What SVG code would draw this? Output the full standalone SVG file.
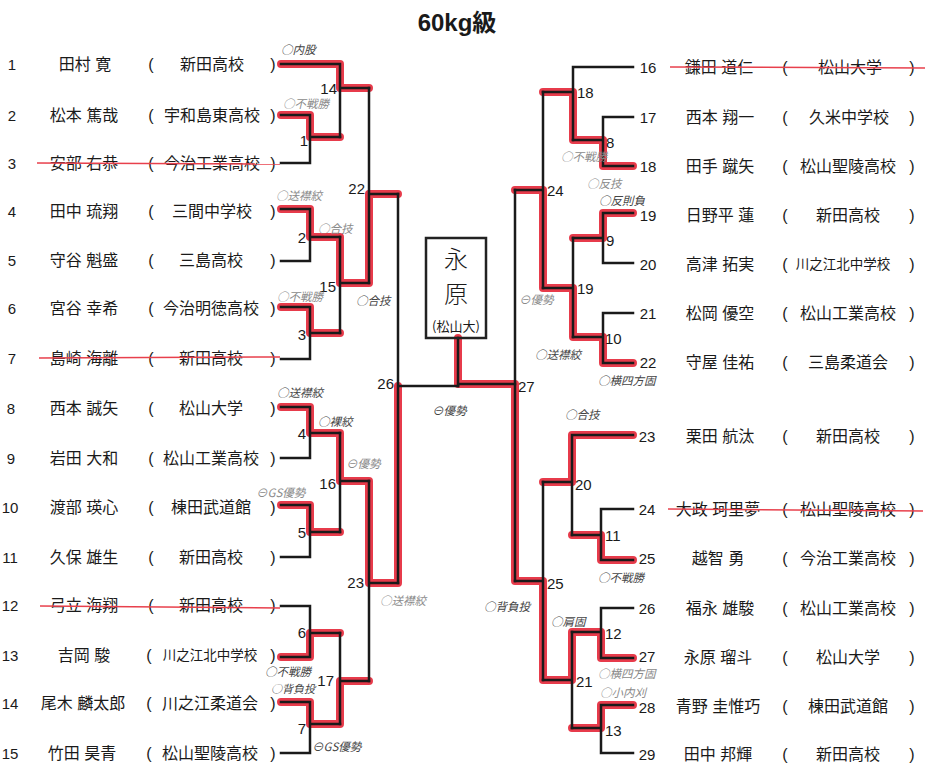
<svg xmlns="http://www.w3.org/2000/svg" width="932" height="782" viewBox="0 0 932 782">
<style>
text{font-family:"Liberation Sans","Noto Sans CJK JP",sans-serif;fill:#1a1a1a;dominant-baseline:central}
.num{font-size:15px;text-anchor:middle}
.nm{font-size:16px;text-anchor:middle}
.sc{font-size:16px;text-anchor:middle}
.scs{font-size:13.5px;text-anchor:middle}
.par{font-size:16px;text-anchor:middle}
.ml{font-size:15px}
.mlr{font-size:15px;text-anchor:end}
.ln{fill:none;stroke:#1a1a1a;stroke-width:2.5;stroke-linecap:square}
.win{fill:none;stroke:#e52a3c;stroke-width:8;stroke-linejoin:round;stroke-linecap:round;opacity:.92}
.strike{stroke:#e8404c;stroke-width:1.5}
.an{font-family:"Noto Sans CJK JP",sans-serif;font-size:11.5px;fill:#444;font-style:italic}
.ang{font-family:"Noto Sans CJK JP",sans-serif;font-size:11.5px;fill:#8a8a8a;font-style:italic}
.ch{font-family:"Noto Sans CJK JP",sans-serif;text-anchor:middle;font-weight:300}
</style>
<rect width="932" height="782" fill="#ffffff"/>
<text x="457" y="22" style="font-size:24px;font-weight:bold;text-anchor:middle">60kg級</text>

<g id="highlights">
<path class="win" d="M281,64 H340 V88 H369"/>
<path class="win" d="M281,115 H310 V137 H340"/>
<path class="win" d="M281,209 H310 V237 H340 V283 H369 V194 H398"/>
<path class="win" d="M281,307 H310 V333 H340"/>
<path class="win" d="M281,407 H310 V433 H340 V481 H369 V583 H398 V386"/>
<path class="win" d="M281,505 H310 V532 H340"/>
<path class="win" d="M281,657 H310 V633 H340"/>
<path class="win" d="M281,702 H310 V724 H340 V681 H369"/>
<path class="win" d="M633,166 H603 V140 H573 V92 H543"/>
<path class="win" d="M633,213 H603 V238 H573"/>
<path class="win" d="M633,363 H603 V337 H573 V288 H543 V190 H515"/>
<path class="win" d="M633,435 H572 V482 H543"/>
<path class="win" d="M633,560 H601 V535 H572"/>
<path class="win" d="M633,658 H601 V632 H572 V680 H543 V581 H515 V384 H458 V338"/>
<path class="win" d="M633,705 H601 V728 H572"/>
</g>

<g id="connectors">
<path class="ln" d="M281,115 H310 V163 H281 M310,137 H340"/>
<path class="ln" d="M281,64 H340 V137 M340,88 H369"/>
<path class="ln" d="M281,209 H310 V261 H281 M310,237 H340"/>
<path class="ln" d="M281,307 H310 V359 H281 M310,333 H340"/>
<path class="ln" d="M340,237 V333 M340,283 H369"/>
<path class="ln" d="M369,88 V283 M369,194 H398"/>
<path class="ln" d="M281,407 H310 V458 H281 M310,433 H340"/>
<path class="ln" d="M281,505 H310 V557 H281 M310,532 H340"/>
<path class="ln" d="M340,433 V532 M340,481 H369"/>
<path class="ln" d="M281,606 H310 V657 H281 M310,633 H340"/>
<path class="ln" d="M281,702 H310 V753 H281 M310,724 H340"/>
<path class="ln" d="M340,633 V724 M340,681 H369"/>
<path class="ln" d="M369,481 V681 M369,583 H398"/>
<path class="ln" d="M398,194 V583 M398,386 H458"/>
<path class="ln" d="M458,338 V386 M458,384 H515"/>
<path class="ln" d="M633,67 H573 V140 M573,92 H543"/>
<path class="ln" d="M633,117 H603 V166 H633 M603,140 H573"/>
<path class="ln" d="M633,213 H603 V263 H633 M603,238 H573"/>
<path class="ln" d="M633,313 H603 V363 H633 M603,337 H573"/>
<path class="ln" d="M573,238 V337 M573,288 H543"/>
<path class="ln" d="M543,92 V288 M543,190 H515"/>
<path class="ln" d="M633,435 H572 V535 M572,482 H543"/>
<path class="ln" d="M633,509 H601 V560 H633 M601,535 H572"/>
<path class="ln" d="M633,608 H601 V658 H633 M601,632 H572"/>
<path class="ln" d="M633,705 H601 V753 H633 M601,728 H572"/>
<path class="ln" d="M572,632 V728 M572,680 H543"/>
<path class="ln" d="M543,482 V680 M543,581 H515"/>
<path class="ln" d="M515,190 V581"/>
</g>

<g id="match-labels">
<text class="mlr" x="308" y="140">1</text>
<text class="mlr" x="337" y="88">14</text>
<text class="mlr" x="365" y="188">22</text>
<text class="mlr" x="306" y="237">2</text>
<text class="mlr" x="336" y="286">15</text>
<text class="mlr" x="306" y="334">3</text>
<text class="mlr" x="394" y="383">26</text>
<text class="mlr" x="306" y="433">4</text>
<text class="mlr" x="336" y="483">16</text>
<text class="mlr" x="306" y="532">5</text>
<text class="mlr" x="364" y="582">23</text>
<text class="mlr" x="306" y="632">6</text>
<text class="mlr" x="334" y="680">17</text>
<text class="mlr" x="306" y="728">7</text>
<text class="ml" x="577" y="92">18</text>
<text class="ml" x="606" y="142">8</text>
<text class="ml" x="547" y="190">24</text>
<text class="ml" x="606" y="240">9</text>
<text class="ml" x="577" y="288">19</text>
<text class="ml" x="605" y="338">10</text>
<text class="ml" x="518" y="386">27</text>
<text class="ml" x="575" y="484">20</text>
<text class="ml" x="605" y="535">11</text>
<text class="ml" x="547" y="583">25</text>
<text class="ml" x="605" y="633">12</text>
<text class="ml" x="576" y="681">21</text>
<text class="ml" x="605" y="730">13</text>
</g>

<g id="champion">
<rect x="426" y="238" width="60" height="100" fill="none" stroke="#222" stroke-width="2.5"/>
<text class="ch" x="456" y="257" style="font-size:24px">永</text>
<text class="ch" x="456" y="292" style="font-size:24px">原</text>
<text class="ch" x="456" y="325" style="font-size:13px;font-weight:normal">(松山大)</text>
</g>

<g id="entry-1"><text class="num" x="12" y="64">1</text><text class="nm" x="85" y="64">田村 寛</text><text class="par" x="151" y="64">(</text><text class="sc" x="212" y="64">新田高校</text><text class="par" x="273" y="64">)</text></g>
<g id="entry-2"><text class="num" x="12" y="115">2</text><text class="nm" x="84" y="115">松本 篤哉</text><text class="par" x="151" y="115">(</text><text class="sc" x="212" y="115">宇和島東高校</text><text class="par" x="273" y="115">)</text></g>
<g id="entry-3"><text class="num" x="12" y="163">3</text><text class="nm" x="84" y="163">安部 右恭</text><text class="par" x="151" y="163">(</text><text class="sc" x="212" y="163">今治工業高校</text><text class="par" x="273" y="163">)</text><line class="strike" x1="37" y1="163" x2="280" y2="164"/></g>
<g id="entry-4"><text class="num" x="12" y="211">4</text><text class="nm" x="84" y="211">田中 琉翔</text><text class="par" x="151" y="211">(</text><text class="sc" x="212" y="211">三間中学校</text><text class="par" x="273" y="211">)</text></g>
<g id="entry-5"><text class="num" x="12" y="260">5</text><text class="nm" x="84" y="260">守谷 魁盛</text><text class="par" x="151" y="260">(</text><text class="sc" x="211" y="260">三島高校</text><text class="par" x="273" y="260">)</text></g>
<g id="entry-6"><text class="num" x="12" y="308">6</text><text class="nm" x="84" y="308">宮谷 幸希</text><text class="par" x="151" y="308">(</text><text class="sc" x="211" y="308">今治明徳高校</text><text class="par" x="273" y="308">)</text></g>
<g id="entry-7"><text class="num" x="12" y="358">7</text><text class="nm" x="84" y="358">島崎 海離</text><text class="par" x="151" y="358">(</text><text class="sc" x="211" y="358">新田高校</text><text class="par" x="273" y="358">)</text><line class="strike" x1="39" y1="358" x2="280" y2="357"/></g>
<g id="entry-8"><text class="num" x="11" y="408">8</text><text class="nm" x="84" y="408">西本 誠矢</text><text class="par" x="151" y="408">(</text><text class="sc" x="211" y="408">松山大学</text><text class="par" x="273" y="408">)</text></g>
<g id="entry-9"><text class="num" x="11" y="458">9</text><text class="nm" x="84" y="458">岩田 大和</text><text class="par" x="151" y="458">(</text><text class="sc" x="211" y="458">松山工業高校</text><text class="par" x="273" y="458">)</text></g>
<g id="entry-10"><text class="num" x="10" y="507">10</text><text class="nm" x="84" y="507">渡部 瑛心</text><text class="par" x="151" y="507">(</text><text class="sc" x="211" y="507">棟田武道館</text><text class="par" x="273" y="507">)</text></g>
<g id="entry-11"><text class="num" x="10" y="557">11</text><text class="nm" x="84" y="557">久保 雄生</text><text class="par" x="151" y="557">(</text><text class="sc" x="211" y="557">新田高校</text><text class="par" x="273" y="557">)</text></g>
<g id="entry-12"><text class="num" x="10" y="605">12</text><text class="nm" x="84" y="605">弓立 海翔</text><text class="par" x="151" y="605">(</text><text class="sc" x="211" y="605">新田高校</text><text class="par" x="273" y="605">)</text><line class="strike" x1="40" y1="606" x2="280" y2="608"/></g>
<g id="entry-13"><text class="num" x="10" y="655">13</text><text class="nm" x="84" y="655">吉岡 駿</text><text class="par" x="149" y="655">(</text><text class="scs" x="210" y="655">川之江北中学校</text><text class="par" x="273" y="655">)</text></g>
<g id="entry-14"><text class="num" x="10" y="703">14</text><text class="nm" x="83" y="703">尾木 麟太郎</text><text class="par" x="149" y="703">(</text><text class="sc" x="210" y="703">川之江柔道会</text><text class="par" x="273" y="703">)</text></g>
<g id="entry-15"><text class="num" x="10" y="753">15</text><text class="nm" x="82" y="753">竹田 昊青</text><text class="par" x="149" y="753">(</text><text class="sc" x="210" y="753">松山聖陵高校</text><text class="par" x="273" y="753">)</text></g>

<g id="entry-16"><text class="num" x="648" y="67">16</text><text class="nm" x="719" y="67">鎌田 道仁</text><text class="par" x="785" y="67">(</text><text class="sc" x="850" y="67">松山大学</text><text class="par" x="912" y="67">)</text><line class="strike" x1="670" y1="67" x2="925" y2="68"/></g>
<g id="entry-17"><text class="num" x="648" y="117">17</text><text class="nm" x="720" y="117">西本 翔一</text><text class="par" x="785" y="117">(</text><text class="sc" x="849" y="117">久米中学校</text><text class="par" x="912" y="117">)</text></g>
<g id="entry-18"><text class="num" x="648" y="166">18</text><text class="nm" x="720" y="166">田手 蹴矢</text><text class="par" x="785" y="166">(</text><text class="sc" x="848" y="166">松山聖陵高校</text><text class="par" x="912" y="166">)</text></g>
<g id="entry-19"><text class="num" x="648" y="215">19</text><text class="nm" x="720" y="215">日野平 蓮</text><text class="par" x="785" y="215">(</text><text class="sc" x="848" y="215">新田高校</text><text class="par" x="912" y="215">)</text></g>
<g id="entry-20"><text class="num" x="648" y="264">20</text><text class="nm" x="720" y="264">高津 拓実</text><text class="par" x="785" y="264">(</text><text class="scs" x="843" y="264">川之江北中学校</text><text class="par" x="912" y="264">)</text></g>
<g id="entry-21"><text class="num" x="648" y="313">21</text><text class="nm" x="720" y="313">松岡 優空</text><text class="par" x="785" y="313">(</text><text class="sc" x="848" y="313">松山工業高校</text><text class="par" x="912" y="313">)</text></g>
<g id="entry-22"><text class="num" x="648" y="362">22</text><text class="nm" x="720" y="362">守屋 佳祐</text><text class="par" x="785" y="362">(</text><text class="sc" x="848" y="362">三島柔道会</text><text class="par" x="912" y="362">)</text></g>
<g id="entry-23"><text class="num" x="647" y="436">23</text><text class="nm" x="720" y="436">栗田 航汰</text><text class="par" x="785" y="436">(</text><text class="sc" x="848" y="436">新田高校</text><text class="par" x="912" y="436">)</text></g>
<g id="entry-24"><text class="num" x="647" y="509">24</text><text class="nm" x="718" y="509">大政 珂里夢</text><text class="par" x="785" y="509">(</text><text class="sc" x="848" y="509">松山聖陵高校</text><text class="par" x="912" y="509">)</text><line class="strike" x1="668" y1="509" x2="923" y2="511"/></g>
<g id="entry-25"><text class="num" x="647" y="558">25</text><text class="nm" x="718" y="558">越智 勇</text><text class="par" x="785" y="558">(</text><text class="sc" x="848" y="558">今治工業高校</text><text class="par" x="912" y="558">)</text></g>
<g id="entry-26"><text class="num" x="647" y="608">26</text><text class="nm" x="720" y="608">福永 雄駿</text><text class="par" x="785" y="608">(</text><text class="sc" x="848" y="608">松山工業高校</text><text class="par" x="912" y="608">)</text></g>
<g id="entry-27"><text class="num" x="647" y="656">27</text><text class="nm" x="718" y="657">永原 瑠斗</text><text class="par" x="785" y="657">(</text><text class="sc" x="848" y="657">松山大学</text><text class="par" x="912" y="657">)</text></g>
<g id="entry-28"><text class="num" x="647" y="707">28</text><text class="nm" x="718" y="706">青野 圭惟巧</text><text class="par" x="785" y="706">(</text><text class="sc" x="848" y="706">棟田武道館</text><text class="par" x="912" y="706">)</text></g>
<g id="entry-29"><text class="num" x="647" y="754">29</text><text class="nm" x="718" y="754">田中 邦輝</text><text class="par" x="785" y="754">(</text><text class="sc" x="848" y="754">新田高校</text><text class="par" x="912" y="754">)</text></g>

<g id="annotations">
<text class="an" x="281" y="49">○内股</text>
<text class="ang" x="283" y="103">○不戦勝</text>
<text class="ang" x="276" y="195">○送襟絞</text>
<text class="ang" x="318" y="228">○合技</text>
<text class="ang" x="277" y="296">○不戦勝</text>
<text class="an" x="356" y="300">○合技</text>
<text class="an" x="277" y="392">○送襟絞</text>
<text class="an" x="318" y="421">○裸絞</text>
<text class="ang" x="346" y="463">⊖優勢</text>
<text class="ang" x="256" y="492">⊖GS優勢</text>
<text class="ang" x="380" y="600">○送襟絞</text>
<text class="an" x="265" y="671">○不戦勝</text>
<text class="an" x="271" y="688" style="font-size:11px">○背負投</text>
<text class="an" x="312" y="746">⊖GS優勢</text>
<text class="an" x="432" y="410">⊖優勢</text>
<text class="ang" x="561" y="156">○不戦勝</text>
<text class="ang" x="587" y="183">○反技</text>
<text class="an" x="599" y="200">○反則負</text>
<text class="ang" x="519" y="299">⊖優勢</text>
<text class="an" x="535" y="354">○送襟絞</text>
<text class="an" x="598" y="380">○横四方固</text>
<text class="an" x="565" y="414">○合技</text>
<text class="an" x="598" y="577">○不戦勝</text>
<text class="an" x="484" y="606">○背負投</text>
<text class="an" x="551" y="621">○肩固</text>
<text class="ang" x="598" y="673">○横四方固</text>
<text class="ang" x="600" y="692">○小内刈</text>
</g>
</svg>
